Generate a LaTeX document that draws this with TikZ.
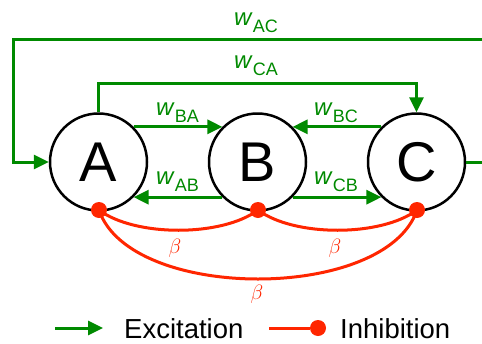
\documentclass[tikz,border=0pt]{standalone}
\usepackage{fontspec}
\setmainfont{Liberation Sans}
\usetikzlibrary{arrows.meta}
\definecolor{excg}{RGB}{0,138,0}
\definecolor{inhr}{RGB}{255,38,0}
\newcommand{\wsub}[1]{\textit{w}\raisebox{-7.5pt}{\fontsize{18}{18}\selectfont #1}}
\begin{document}
\begin{tikzpicture}[x=1pt,y=-1pt,
 neuron/.style={circle,draw=black,line width=2.5pt,minimum size=97pt,inner sep=0pt,font=\fontsize{56}{60}\selectfont},
 excl/.style={draw=excg,line width=3pt,-{Triangle[length=15pt,width=14pt]}},
 inhl/.style={draw=inhr,line width=3pt},
 wlab/.style={text=excg,font=\fontsize{24}{26}\selectfont,inner sep=0pt,anchor=base west},
 blab/.style={text=inhr,font=\fontsize{21}{22}\selectfont,inner sep=0pt},
 inhdot/.style={circle,fill=inhr,minimum size=16pt,inner sep=0pt},
 leg/.style={font=\fontsize{27.5}{30}\selectfont,inner sep=0pt,anchor=base west}]
\clip (0,0) rectangle (482,343);
\fill[white] (0,0) rectangle (482,343);
% neurons
\node[neuron] (A) at (98.5,162) {A};
\node[neuron] (B) at (257.5,162) {B};
\node[neuron] (C) at (416.5,162) {C};
% excitatory connections
\draw[excl] (A.45) -- (B.135);
\draw[excl] (C.135) -- (B.45);
\draw[excl] (B.-135) -- (A.-45);
\draw[excl] (B.-45) -- (C.-135);
\draw[excl] (A.north) -- ++(0,-29) -| (C.north);
\coordinate (acR) at (495,39);
\coordinate (acL) at (13,39);
\draw[excl] (C.east) -| (acR) -- (acL) |- (A.west);
% labels
\node[wlab] (lAC) at (234,25) {\wsub{AC}};
\node[wlab] (lCA) at (234,68) {\wsub{CA}};
\node[wlab] (lBA) at (156,115) {\wsub{BA}};
\node[wlab] (lBC) at (314,115) {\wsub{BC}};
\node[wlab] (lAB) at (156,184) {\wsub{AB}};
\node[wlab] (lCB) at (314,184) {\wsub{CB}};
% inhibitory connections
\coordinate (dA) at (99,210);
\coordinate (dB) at (258,210);
\coordinate (dC) at (417,210);
\draw[inhl] (dA) .. controls (135,237) and (222,237) .. (dB);
\draw[inhl] (dB) .. controls (294,237) and (381,237) .. (dC);
\draw[inhl] (dA) .. controls (130,302) and (386,302) .. (dC);
\node[inhdot] (nA) at (dA) {};
\node[inhdot] (nB) at (dB) {};
\node[inhdot] (nC) at (dC) {};
\node[blab] (b1) at (175,248) {$\beta$};
\node[blab] (b2) at (335,248) {$\beta$};
\node[blab] (b3) at (257,294) {$\beta$};
% legend
\coordinate (le1) at (55,328);
\coordinate (le2) at (103,328);
\draw[excl] (le1) -- (le2);
\node[leg] (ltE) at (124,338.5) {Excitation};
\coordinate (li1) at (269,328);
\node[inhdot] (li2) at (318,328) {};
\draw[inhl] (li1) -- (li2);
\node[leg] (ltI) at (340,338.5) {Inhibition};
\end{tikzpicture}
\end{document}
